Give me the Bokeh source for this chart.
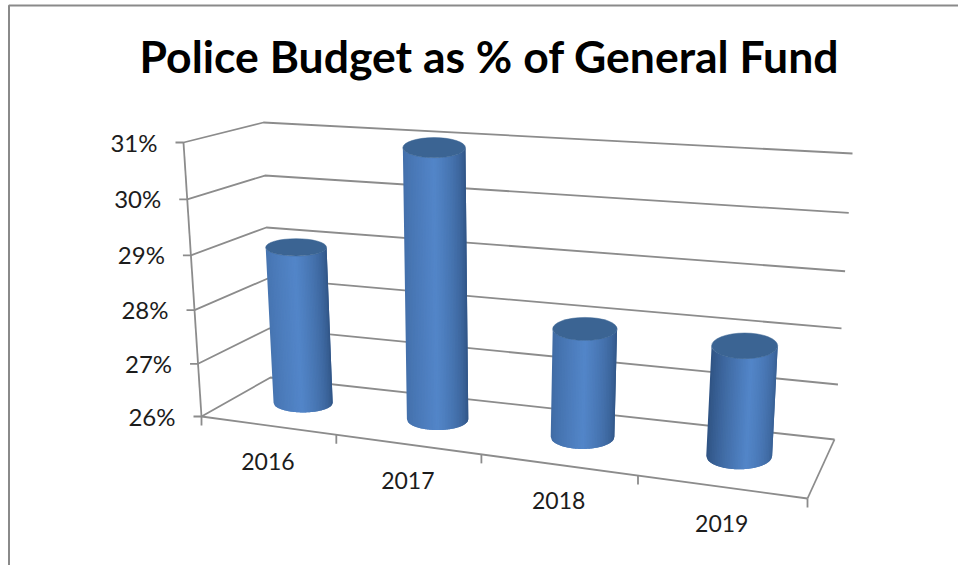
from bokeh.plotting import figure
from bokeh.models import Range1d
from bokeh.embed import file_html
from bokeh.resources import INLINE
from bokeh.core.properties import value
import numpy as np

title = "Police Budget as % of General Fund"
years = ["2016", "2017", "2018", "2019"]
budget_pct = [28.97, 30.95, 27.97, 27.95]
val_ticks = [26, 27, 28, 29, 30, 31]
val_labels = ["26%", "27%", "28%", "29%", "30%", "31%"]

# Projection of the 3D box: (category fraction, value, depth) -> screen pixels
FL26 = np.array([201., 416.]); FL31 = np.array([183., 142.])
BL26 = np.array([270., 377.]); BL31 = np.array([263., 122.])
BR26 = np.array([834., 439.]); BR31 = np.array([852., 153.])
FR26 = np.array([807., 498.]); FR31 = np.array([827., 191.])
W_U, W_V = 1.165, 1.05


def persp(t, w):
    return t / (t + w * (1 - t))


def proj(u, v, d):
    s = persp(u, W_U)
    t = persp((v - 26) / 5, W_V)
    fb = FL26 + (FR26 - FL26) * s
    ft = FL31 + (FR31 - FL31) * s
    bb = BL26 + (BR26 - BL26) * s
    bt = BL31 + (BR31 - BL31) * s
    front = fb + (ft - fb) * t
    back = bb + (bt - bb) * t
    return front + (back - front) * d


p = figure(width=958, height=565, output_backend="svg", toolbar_location=None,
           x_range=Range1d(0, 958), y_range=Range1d(565, 0),
           min_border=0, margin=(0, 0, 0, 0), outline_line_color=None,
           background_fill_color="white", border_fill_color="white")
p.axis.visible = False
p.grid.visible = False

GREY = "#8c8c8c"
LW = 1.8
# chart frame
p.line([8.5, 8.5, 958], [565, 5, 5], line_color="#8a8a8a", line_width=2)

# wall / floor gridlines
for v in val_ticks:
    a, b, c = proj(0, v, 0), proj(0, v, 1), proj(1, v, 1)
    p.line([a[0] - 8, a[0], b[0], c[0]], [a[1], a[1], b[1], c[1]], line_color=GREY, line_width=LW)
a, b = proj(0, 26, 0), proj(0, 31, 0)
p.line([a[0], b[0]], [a[1], b[1]], line_color=GREY, line_width=LW)
a, b = proj(0, 26, 0), proj(1, 26, 0)
p.line([a[0], b[0]], [a[1], b[1]], line_color=GREY, line_width=LW)
c = proj(1, 26, 1)
p.line([b[0], c[0]], [b[1], c[1]], line_color=GREY, line_width=LW)
for i in range(5):
    q = proj(i / 4, 26, 0)
    p.line([q[0], q[0]], [q[1], q[1] + 9], line_color=GREY, line_width=LW)

# axis labels
for v, lab in zip(val_ticks, val_labels):
    q = proj(0, v, 0)
    p.text([q[0] - 26], [q[1] - 0.5], text=[lab], text_align="right", text_baseline="middle",
           text_font=value("Lato"), text_font_size="24px", text_color="#1c1c1c")
for i, y in enumerate(years):
    q0, q1 = proj(i / 4, 26, 0), proj((i + 1) / 4, 26, 0)
    p.text([(q0[0] + q1[0]) / 2 - 1], [(q0[1] + q1[1]) / 2 + 36], text=[y], text_align="center",
           text_baseline="middle", text_font=value("Lato"), text_font_size="23px", text_color="#1c1c1c")

p.text([489], [55], text=[title], text_align="center", text_baseline="middle",
       text_font=value("Lato"), text_font_size="44.5px", text_font_style="bold", text_color="black")

# cylinders
DARK = np.array([0x2c, 0x4e, 0x7c], float)
LIGHT = np.array([0x53, 0x86, 0xc9], float)
light_pos = [0.48, 0.50, 0.50, 0.60]
left_mix = [0.68, 0.60, 0.52, 0.08]
right_mix = [0.05, 0.05, 0.08, 0.25]
top_dx = [-2, -2, 0, 0]
CAP = "#3b6493"
N = 40


def col_at(f, lp, lm, rm):
    if f < lp:
        m = lm + (1 - lm) * (f / lp) ** 0.8
    else:
        m = rm + (1 - rm) * ((1 - f) / (1 - lp)) ** 0.55
    c = DARK + (LIGHT - DARK) * m
    return "#%02x%02x%02x" % tuple(int(x) for x in c)


for i, val in enumerate(budget_pct):
    u = (i + 0.5) / 4
    base = proj(u, 26, 0.55)
    top = proj(u, val, 0.55)
    top[0] += top_dx[i]
    rx_t, rx_b = 30 + 3.5 * u, 29 + 4.5 * u
    ry_t, ry_b = 8 + 5.5 * u, 9 + 5 * u
    xs, ys, cols = [], [], []
    edges = np.linspace(0, 1, N + 1)
    for k in range(N):
        f0, f1 = edges[k], min(1.0, edges[k + 1] + 1.0 / N)
        fm = np.linspace(f0, f1, 4)
        cb = 2 * fm - 1
        sb = np.sqrt(np.clip(1 - cb ** 2, 0, 1))
        bx = base[0] + rx_b * cb
        by = base[1] + ry_b * sb
        tx = top[0] + rx_t * cb
        ty = top[1] + ry_t * sb
        xs.append(list(bx) + list(tx[::-1]))
        ys.append(list(by) + list(ty[::-1]))
        cols.append(col_at((edges[k] + edges[k + 1]) / 2, light_pos[i], left_mix[i], right_mix[i]))
    p.patches(xs, ys, fill_color=cols, line_color=None)
    p.ellipse([top[0]], [top[1]], width=[2 * rx_t], height=[2 * ry_t], fill_color=CAP, line_color=CAP,
              line_width=0.5)

open("out.html", "w").write(file_html(p, INLINE))
